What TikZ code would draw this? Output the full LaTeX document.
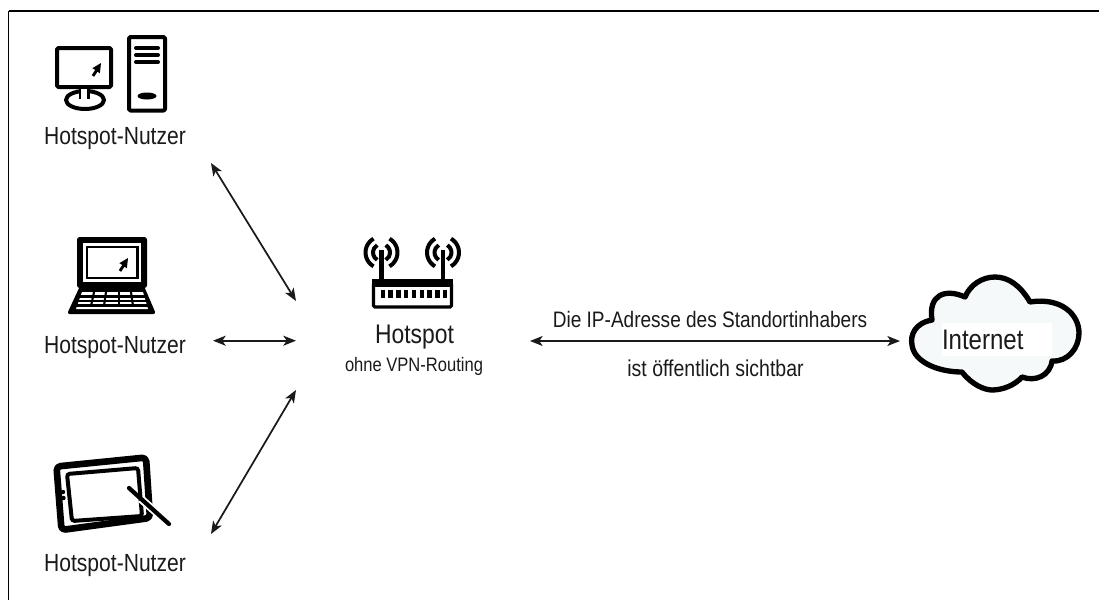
\documentclass[tikz,border=0pt]{standalone}
\usepackage{fontspec}
\setmainfont[FakeStretch=0.85]{Liberation Sans}
\usetikzlibrary{arrows.meta}
\definecolor{ink}{HTML}{1A1A1A}
\definecolor{cloudfill}{HTML}{F6F9F9}
\begin{document}
\begin{tikzpicture}[
    x=0.75pt, y=-0.75pt,
    iconline/.style={draw=black, line width=3pt, line join=round},
    thinline/.style={draw=black, line width=1.9pt},
    link/.style={ink, line width=1.3pt, {Stealth[length=9.5pt,width=7.5pt,inset=2.5pt]}-{Stealth[length=9.5pt,width=7.5pt,inset=2.5pt]}},
    usertext/.style={ink, inner sep=0pt, font=\fontsize{18.6}{21}\selectfont},
    smalltext/.style={ink, inner sep=0pt, font=\fontsize{14.6}{17}\selectfont},
    cursor/.pic={\fill[black, scale=1.15] (0,0) -- (-1,9) -- (-3,7.5) -- (-6,12) -- (-8,10.5) -- (-5,6) -- (-7.5,4.5) -- cycle;}
]
  \useasboundingbox (0,0) rectangle (1099,600);
  % frame, open at the bottom and on the right
  \draw[black, line width=1.9pt] (1099,11) -- (8.5,11);
  \draw[black, line width=1.2pt] (8.5,11) -- (8.5,600);

  % desktop
  \draw[iconline, rounded corners=1pt] (57,48) rectangle (111,87);
  \draw[iconline] (85,100) ellipse (19 and 9);
  \fill[white] (81,89) rectangle (88,100);
  \draw[thinline] (80,89) -- (80,99) (88.5,89) -- (88.5,99);
  \pic at (101,63) {cursor};
  \draw[iconline, rounded corners=1pt] (129,37) rectangle (165,110.5);
  \foreach \slot in {48,55,62}
    \draw[black, line width=3pt, line cap=round] (136,\slot) -- (158,\slot);
  \fill[black] (147,96) ellipse (9.5 and 3.5);
  \node[usertext] (user1) at (115,139) {Hotspot-Nutzer};

  % laptop
  \fill[black, rounded corners=2pt] (77,237) rectangle (147,288);
  \fill[black, rounded corners=2pt] (80,286) -- (144,286) -- (156,314) -- (67,314) -- cycle;
  \fill[white] (83,243) rectangle (141,281.5);
  \fill[black] (85.5,245.5) rectangle (138.5,279);
  \fill[white] (87.5,248) rectangle (136,277);
  \pic at (128,258) {cursor};
  \fill[white] (82,292) -- (143,292) -- (148,309) -- (76,309) -- cycle;
  \foreach \row in {296.5,301.2,305.5}
    \draw[black, line width=1.6pt] (76,\row) -- (148,\row);
  \foreach \top/\bot in {94/91,106/104,119/119,131/133}
    \draw[black, line width=1.6pt] (\top,292) -- (\bot,306);
  \node[usertext] (user2) at (115,347.5) {Hotspot-Nutzer};

  % tablet
  \draw[black, line width=5pt, line join=round, rounded corners=3pt] (56.5,466.5) -- (146,457.5) -- (150,518) -- (61.5,530) -- cycle;
  \draw[black, line width=3pt, rounded corners=2pt] (67,474) -- (138,468) -- (142,516) -- (72,521) -- cycle;
  \fill[black] (63,492) circle (2.2) (63.5,498) circle (2.2);
  \draw[white, line width=6pt] (141,499) -- (157,513);
  \draw[black, line width=3.2pt, line cap=round] (129,488) -- (169,524);
  \node[usertext] (user3) at (115,565.5) {Hotspot-Nutzer};

  % router
  \draw[black, line width=3.6pt] (381.5,250) -- (381.5,280) (443,250) -- (443,280);
  \foreach \ant in {381.5,443}{
    \draw[black, line width=3pt] (\ant,252.5) ++(120:8.5) arc[start angle=120, end angle=240, radius=8.5];
    \draw[black, line width=3pt] (\ant,252.5) ++(120:16) arc[start angle=120, end angle=240, radius=16];
    \draw[black, line width=3pt] (\ant,252.5) ++(-60:8.5) arc[start angle=-60, end angle=60, radius=8.5];
    \draw[black, line width=3pt] (\ant,252.5) ++(-60:16) arc[start angle=-60, end angle=60, radius=16];
  }
  \draw[black, line width=2.4pt, rounded corners=1pt] (373.5,283) rectangle (451.5,307);
  \fill[black] (372,279) rectangle (453,287);
  \foreach \led in {0,...,8}
    \fill[black] ({380.5+\led*7.8},289.5) rectangle ({385+\led*7.8},298);
  \node[usertext, font=\fontsize{20.2}{24}\selectfont] (hotspot) at (414.5,337.5) {Hotspot};
  \node[smalltext] (routing) at (414,366) {ohne VPN-Routing};

  % cloud
  \draw[black, fill=cloudfill, line width=4pt, line join=round]
    (932,320) .. controls (915,323) and (910,335) .. (912,345)
    .. controls (914,362) and (938,372) .. (962,372)
    .. controls (972,385) and (985,390) .. (992,390)
    .. controls (1003,390) and (1015,385) .. (1022,377)
    .. controls (1035,382) and (1050,376) .. (1052,361)
    .. controls (1068,362) and (1079,348) .. (1079,333)
    .. controls (1079,315) and (1062,297) .. (1030,302)
    .. controls (1020,285) and (1008,277) .. (995,277)
    .. controls (982,277) and (970,285) .. (965,297)
    .. controls (945,288) and (928,295) .. (932,320) -- cycle;
  \node[ink, fill=white, inner sep=0pt, minimum height=25pt, text width=82.5pt, font=\fontsize{21.2}{25}\selectfont] (internet) at (997,339.5) {Internet};

  % labels on the long link
  \node[smalltext, font=\fontsize{16.8}{20}\selectfont] (ipline) at (710,319) {Die IP-Adresse des Standortinhabers};
  \node[smalltext, font=\fontsize{17.2}{20}\selectfont] (publicline) at (715.5,368) {ist öffentlich sichtbar};

  % links
  \coordinate (user1port) at (211,163);
  \coordinate (hubnw) at (296,301);
  \coordinate (user2port) at (213,340.7);
  \coordinate (hubw) at (296,340.7);
  \coordinate (user3port) at (211,534);
  \coordinate (hubsw) at (296,390);
  \coordinate (hube) at (530,341);
  \coordinate (cloudw) at (900,341);
  \draw[link] (user1port) -- (hubnw);
  \draw[link] (user2port) -- (hubw);
  \draw[link] (user3port) -- (hubsw);
  \draw[link] (hube) -- (cloudw);
\end{tikzpicture}
\end{document}
